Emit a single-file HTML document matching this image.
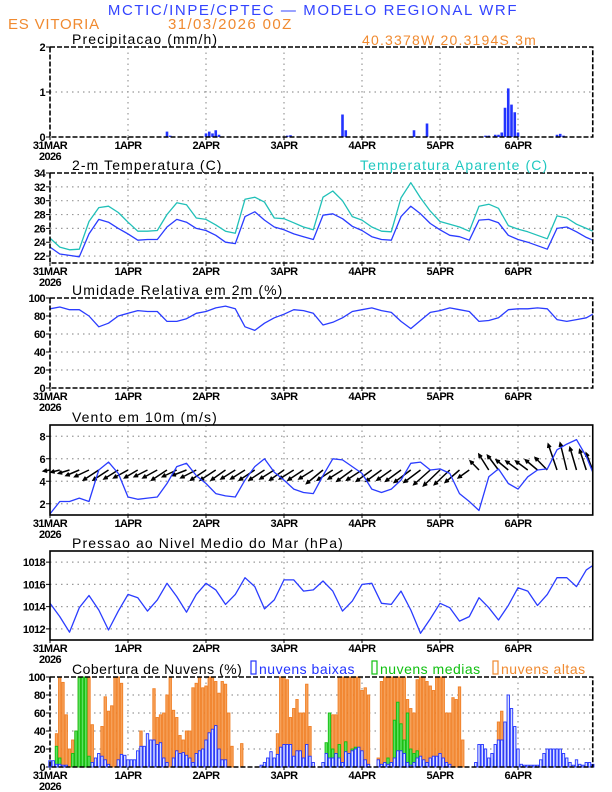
<!DOCTYPE html>
<html><head><meta charset="utf-8"><style>
html,body{margin:0;padding:0;background:#fff;}
svg{display:block;font-family:"Liberation Sans",sans-serif;}
.tk{font-size:11px;font-weight:bold;letter-spacing:-0.6px;}
.ti{font-size:14px;letter-spacing:1.1px;}
</style></head><body>
<svg id="chart" width="612" height="792" viewBox="0 0 612 792" xmlns="http://www.w3.org/2000/svg">
<text x="313" y="15" text-anchor="middle" fill="#3344ff" style="font-size:15px;letter-spacing:1.6px">MCTIC/INPE/CPTEC — MODELO REGIONAL WRF</text>
<text x="8" y="29" fill="#f08a30" style="font-size:15px;letter-spacing:0.8px">ES VITORIA</text>
<text x="168" y="29" fill="#f08a30" style="font-size:15px;letter-spacing:1.4px">31/03/2026 00Z</text>
<text x="362" y="45" fill="#f08a30" style="font-size:14px;letter-spacing:1.2px">40.3378W 20.3194S 3m</text>
</svg>
<script>
// ---- data (hours since 31MAR 00Z) ----
const dayLabels = ["31MAR","1APR","2APR","3APR","4APR","5APR","6APR"];
const hours3 = [0,3,6,9,12,15,18,21,24,27,30,33,36,39,42,45,48,51,54,57,60,63,66,69,72,75,78,81,84,87,90,93,96,99,102,105,108,111,114,117,120,123,126,129,132,135,138,141,144,147,150,153,156,159,162,165,167];
const precipHours = [36,37,48,49,50,51,52,73,74,90,91,112,116,134,135,137,138,139,140,141,142,143,144,156,157,158];
const precipValues = [0.12,0.03,0.08,0.12,0.08,0.15,0.05,0.03,0.04,0.5,0.15,0.15,0.3,0.03,0.03,0.05,0.05,0.1,0.65,1.08,0.72,0.55,0.1,0.05,0.07,0.03];
const tempValues = [23.3,22.3,22.1,21.9,25.2,27.3,26.9,26.0,25.2,24.3,24.4,24.4,26.2,27.3,26.9,26.0,25.7,25.0,24.0,23.8,27.7,28.4,27.2,26.2,25.8,25.2,24.8,24.4,27.9,28.1,27.4,26.3,25.7,24.8,24.4,24.3,27.7,29.2,28.1,26.7,25.8,25.0,24.8,24.3,27.2,27.3,26.8,25.0,24.4,24.0,23.5,23.0,26.0,26.2,25.5,24.7,24.3];
const apparentValues = [24.6,23.3,22.9,23.0,27.0,29.0,29.2,28.3,26.9,25.6,25.6,25.7,28.0,29.7,29.4,27.5,27.3,26.5,25.6,25.3,30.2,30.5,29.8,27.5,27.4,26.8,26.2,25.8,30.5,31.4,30.0,27.7,27.2,26.2,25.6,25.5,30.4,32.6,30.4,28.5,27.0,26.6,26.2,25.6,29.2,29.5,28.9,26.4,25.9,25.5,25.0,24.5,27.8,27.5,26.6,26.0,25.6];
const rhValues = [88,90,87,87,80,68,72,80,83,86,85,85,74,74,77,83,85,89,91,88,68,64,72,78,82,87,86,83,70,73,78,85,87,89,86,84,74,66,75,84,86,89,87,85,74,75,78,87,88,88,89,88,76,74,76,78,82];
const windSpeed = [1.1,2.2,2.2,2.5,2.2,5.0,5.7,4.7,2.6,2.4,2.5,2.6,3.8,5.3,5.6,4.5,3.8,2.9,2.7,2.6,4.1,5.3,6.0,4.8,4.1,3.3,3.0,2.9,4.5,6.0,5.9,5.3,4.7,3.3,3.0,3.3,4.1,5.6,5.7,5.0,5.1,4.7,2.9,2.2,1.4,4.4,5.1,3.8,3.3,4.4,5.0,5.1,6.8,7.3,7.7,6.2,4.8];
const windU = [-0.6,-0.8,-1.0,-1.2,-1.3,-1.4,-1.4,-1.3,-1.3,-1.2,-1.2,-1.3,-1.4,-1.3,-1.3,-1.4,-1.4,-1.4,-1.3,-1.3,-1.3,-1.4,-1.4,-1.3,-1.3,-1.3,-1.4,-1.3,-1.5,-1.4,-1.3,-1.4,-1.4,-1.4,-1.4,-1.3,-1.4,-1.5,-1.5,-1.5,-1.5,-1.4,-1.3,-1.0,-0.8,-0.9,-1.0,-1.1,-1.1,-1.1,-1.1,-1.1,-0.8,-0.6,-0.6,-0.6,-0.6];
const windV = [-0.1,-0.2,-0.3,-0.5,-0.6,-0.9,-0.9,-0.8,-0.7,-0.7,-0.6,-0.7,-0.9,-0.6,-0.5,-0.7,-0.9,-0.9,-0.9,-0.8,-0.8,-0.9,-0.9,-0.8,-0.9,-0.8,-0.9,-0.8,-1.2,-0.9,-0.8,-1.0,-0.9,-1.0,-1.0,-0.9,-1.0,-1.1,-1.1,-1.3,-1.4,-1.3,-1.1,-0.7,0.8,1.4,1.3,0.9,0.8,0.8,0.9,1.1,2.3,2.4,2.0,1.8,1.5];
const pressValues = [1014.3,1013.1,1011.7,1013.9,1015.0,1013.7,1011.9,1013.6,1015.1,1014.8,1013.6,1014.6,1016.1,1014.9,1013.5,1015.1,1016.1,1015.5,1014.2,1015.1,1016.6,1015.8,1013.8,1014.6,1016.4,1016.4,1015.4,1015.5,1016.3,1015.4,1013.6,1014.5,1016.0,1016.1,1014.3,1014.2,1015.4,1013.7,1011.6,1012.9,1014.3,1013.9,1012.7,1013.1,1014.8,1013.9,1012.8,1014.1,1015.7,1015.4,1014.1,1015.1,1016.6,1016.6,1015.8,1017.3,1017.7];
const cloudHigh = [0,0,37,100,94,58,20,30,40,100, 100,100,100,47,0,0,45,78,62,68, 100,100,93,12,0,0,0,0,40,18, 0,5,87,55,58,60,80,100,63,55, 35,30,40,40,88,93,100,88,90,100, 100,95,82,95,92,60,23,0,0,26, 0,0,0,0,0,0,0,0,0,0, 37,100,100,97,55,65,75,60,60,92, 45,0,0,0,0,0,0,58,58,100, 100,100,100,100,100,100,85,88,80,0, 0,10,95,100,100,100,100,100,100,100, 75,65,60,97,100,100,95,90,85,100, 100,100,60,60,77,75,89,30,0,0, 0,0,0,0,0,0,0,0,50,62, 40,30,0,0,0,0,0,0,0,0, 0,0,0,0,0,0,0,0,0,0, 0,0,0,0,0,0,0,0];
const cloudMid = [0,0,23,10,0,0,0,15,40,100, 100,100,12,0,5,0,0,0,0,0, 0,0,0,0,0,0,0,0,0,0, 0,0,0,0,0,0,0,0,0,0, 0,0,0,0,0,0,0,0,0,0, 0,0,0,0,0,0,0,0,0,0, 0,0,0,0,0,0,0,0,0,0, 0,0,0,0,0,0,3,0,0,0, 0,0,0,0,0,27,60,20,0,25, 0,28,0,20,22,0,0,0,0,0, 0,0,0,0,10,0,52,72,48,30, 60,20,15,18,0,5,0,0,0,0, 0,0,0,0,0,0,0,0,0,0, 0,0,0,0,0,0,3,8,0,0, 0,0,0,0,0,0,0,0,0,0, 0,0,0,0,0,0,0,0,0,0, 0,0,0,0,0,0,0,0];
const cloudLow = [7,7,3,3,2,2,0,0,0,0, 0,0,0,5,10,15,12,8,3,0, 0,8,14,13,8,8,8,18,23,23, 37,30,30,25,27,10,5,0,10,18, 15,16,13,10,5,15,18,20,30,38, 42,46,20,8,8,0,0,0,0,0, 0,0,0,0,0,2,5,10,17,10, 14,22,25,25,25,12,18,18,10,25, 12,5,0,0,5,15,10,10,15,10, 5,17,15,18,20,22,18,8,3,0, 0,8,3,5,3,5,10,18,18,15, 5,2,5,10,12,8,5,10,12,12, 15,10,5,3,0,0,0,0,0,0, 0,5,25,25,20,10,15,25,30,30, 50,80,65,45,20,3,2,2,2,2, 2,8,15,20,20,20,20,20,15,10, 5,2,8,3,2,5,5,3];

const svg = document.getElementById('chart');
const NS = "http://www.w3.org/2000/svg";
const X0 = 50, X1 = 592.75, HMAX = 167;
const xs = h => X0 + h * (X1 - X0) / HMAX;
function mk(tag, attrs, parent) {
  const e = document.createElementNS(NS, tag);
  for (const k in attrs) e.setAttribute(k, attrs[k]);
  (parent || svg).appendChild(e);
  return e;
}
const panels = {};
function panel(key, title, top, bottom, ymin, ymax, ticks, dashed, titleSpacing) {
  const g = mk('g', {});
  
  
  const ys = v => bottom - (v - ymin) * (bottom - top) / (ymax - ymin);
  ticks.forEach(t => {
    if (t === ymin || t === ymax) return;
    const l = mk('line', {x1: X0, x2: X1, y1: ys(t), y2: ys(t), stroke: '#999', 'stroke-width': 1.2, 'stroke-dasharray': '1.5,4'}, g);
    
    
  });
  for (let d = 1; d < dayLabels.length; d++) {
    const x = xs(d * 24);
    const l = mk('line', {x1: x, x2: x, y1: top, y2: bottom, stroke: '#999', 'stroke-width': 1.2, 'stroke-dasharray': '1.5,4'}, g);
    
    
  }
  ticks.forEach(t => {
    mk('line', {x1: X0 - 4, x2: X0, y1: ys(t), y2: ys(t), stroke: '#000', 'stroke-width': 1}, g);
    const tx = mk('text', {x: X0 - 5, y: ys(t) + 4, 'text-anchor': 'end', class: 'tk'}, g);
    tx.textContent = t;
    
    
  });
  dayLabels.forEach((lab, d) => {
    const x = xs(d * 24);
    mk('line', {x1: x, x2: x, y1: bottom, y2: bottom + 3, stroke: '#000'}, g);
    const tx = mk('text', {x: x, y: bottom + 12, 'text-anchor': 'middle', class: 'tk'}, g);
    tx.textContent = lab;
    
    
  });
  const yr = mk('text', {x: xs(0), y: bottom + 23, 'text-anchor': 'middle', class: 'tk'}, g);
  yr.textContent = '2026';
  
  
  const tt = mk('text', {x: 72, y: top - 3, class: 'ti'}, g);
  if (titleSpacing) tt.style.letterSpacing = titleSpacing;
  tt.textContent = title;
  
  
  const plot = mk('g', {}, g);
  
  
  const fr = mk('rect', {x: X0, y: top, width: X1 - X0, height: bottom - top, fill: 'none', stroke: '#000', 'stroke-width': 1.6}, g);
  if (dashed) fr.setAttribute('stroke-dasharray', '5,2');
  
  
  panels[key] = {ys, plot, top, bottom};
  return panels[key];
}
function line(p, hs, vals, color, name) {
  const d = hs.map((h, i) => (i ? 'L' : 'M') + xs(h).toFixed(1) + ',' + p.ys(vals[i]).toFixed(1)).join('');
  const e = mk('path', {d, fill: 'none', stroke: color, 'stroke-width': 1.3, 'stroke-linejoin': 'round'}, p.plot);
  
  
}

const p1 = panel('precipitation', 'Precipitacao (mm/h)', 47, 137, 0, 2, [0,1,2], true);
precipHours.forEach((h, i) => {
  const y = p1.ys(precipValues[i]);
  const r = mk('rect', {x: xs(h) - 1.3, y: y, width: 2.6, height: p1.bottom - y, fill: '#2233ff'}, p1.plot);
  
  
});

const p2 = panel('temperature', '2-m Temperatura (C)', 173, 263, 21, 34, [22,24,26,28,30,32,34], true);
const at = mk('text', {x: 360, y: 170, fill: '#20c8c0', class: 'ti'});
at.textContent = 'Temperatura Aparente (C)';


line(p2, hours3, apparentValues, '#20c0b8', 'apparent-temp-line');
line(p2, hours3, tempValues, '#2a3cff', 'temp-line');

const p3 = panel('humidity', 'Umidade Relativa em 2m (%)', 298, 388, 0, 100, [0,20,40,60,80,100], true);
line(p3, hours3, rhValues, '#2a3cff', 'humidity-line');

const p4 = panel('wind', 'Vento em 10m (m/s)', 425, 515, 1, 9, [2,4,6,8], false);
const base = p4.ys(5);
hours3.forEach((h, i) => {
  const x0 = xs(h), x1 = x0 + windU[i] * 11, y1 = base - windV[i] * (p4.bottom - p4.top) / 8;
  const ang = Math.atan2(y1 - base, x1 - x0);
  const hx1 = x1 - 4 * Math.cos(ang - 0.45), hy1 = y1 - 4 * Math.sin(ang - 0.45);
  const hx2 = x1 - 4 * Math.cos(ang + 0.45), hy2 = y1 - 4 * Math.sin(ang + 0.45);
  const a = mk('path', {d: `M${x0},${base}L${x1},${y1}M${hx1},${hy1}L${x1},${y1}L${hx2},${hy2}`, stroke: '#000', 'stroke-width': 1.5, fill: 'none'}, p4.plot);
  
  
});
line(p4, hours3, windSpeed, '#2a3cff', 'wind-speed-line');

const p5 = panel('pressure', 'Pressao ao Nivel Medio do Mar (hPa)', 551, 640, 1011, 1019, [1012,1014,1016,1018], false);
line(p5, hours3, pressValues, '#2a3cff', 'pressure-line');

const p6 = panel('cloud', 'Cobertura de Nuvens (%)', 677, 767, 0, 100, [0,20,40,60,80,100], true, '0.5px');
function bars(vals, fill, stroke, name) {
  vals.forEach((v, h) => {
    if (v <= 0) return;
    const y = p6.ys(v);
    const r = mk('rect', {x: xs(h) - 1.2, y: y, width: 2.4, height: p6.bottom - y, fill, stroke, 'stroke-width': 0.9}, p6.plot);
    
    
  });
}
bars(cloudHigh, '#f6a15a', '#f07f25', 'high-cloud-bar');
bars(cloudMid, '#60e060', '#10c010', 'mid-cloud-bar');
bars(cloudLow, '#d8e0ff', '#2233ff', 'low-cloud-bar');
const legend = [['nuvens baixas', '#2233ff', 251], ['nuvens medias', '#10c010', 372], ['nuvens altas', '#f08a30', 493]];
legend.forEach(([t, c, x]) => {
  const r = mk('rect', {x: x, y: 661, width: 5, height: 13, fill: 'none', stroke: c, 'stroke-width': 1.2});
  
  
  const tx = mk('text', {x: x + 8, y: 674, fill: c, class: 'ti'});
  tx.style.letterSpacing = '0.5px';
  tx.textContent = t;
  
  
});
</script>
</body></html>
